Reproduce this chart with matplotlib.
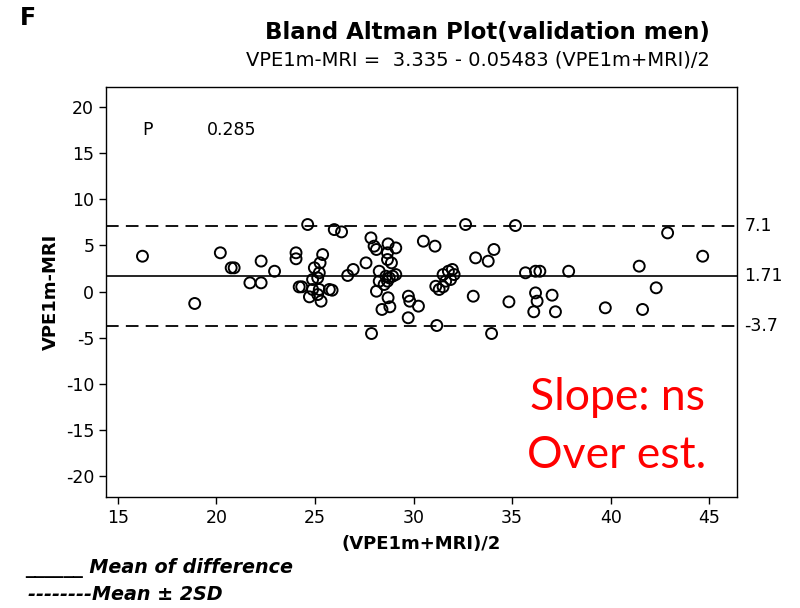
import matplotlib
matplotlib.use("Agg")
import matplotlib.pyplot as plt

plt.rcParams["axes.unicode_minus"] = False

# Data
avg = [16.25, 18.9, 20.2, 20.75, 20.9, 22.27, 22.95, 21.7, 22.27, 24.04, 24.04, 24.2,
       24.63, 25.98, 26.35, 25.39, 25.26, 24.97, 25.22, 25.14, 24.88, 24.33, 24.72, 25.31,
       24.88, 25.22, 25.14, 25.73, 25.87, 26.66, 26.94, 27.59, 27.84, 28.0, 28.12, 28.71,
       29.1, 28.68, 28.68, 28.88, 28.26, 28.6, 28.77, 28.94, 29.1, 28.26, 28.51, 28.68,
       28.12, 28.71, 28.8, 28.4, 27.87, 29.74, 29.81, 30.25, 29.73, 30.5, 31.09, 31.18,
       31.13, 31.3, 31.5, 31.77, 31.97, 31.63, 31.88, 32.06, 31.5, 32.64, 33.15, 33.03,
       33.79, 34.08, 33.96, 35.17, 34.84, 35.68, 36.19, 36.41, 36.19, 36.27, 36.1, 37.03,
       37.2, 37.87, 39.73, 41.45, 41.62, 42.31, 42.89, 44.67]
diff = [3.83, -1.3, 4.2, 2.57, 2.57, 3.3, 2.2, 0.94, 0.94, 4.2, 3.55, 0.5,
        7.27, 6.72, 6.47, 4.01, 3.11, 2.57, 2.03, 1.48, 1.30, 0.51, -0.58, -1.05,
        0.22, 0.22, -0.33, 0.22, 0.14, 1.74, 2.39, 3.11, 5.82, 4.92, 4.56, 5.17,
        4.73, 4.2, 3.47, 3.11, 2.2, 1.66, 1.48, 1.66, 1.84, 1.12, 0.76, 1.12,
        0.03, -0.68, -1.66, -1.95, -4.56, -0.51, -1.05, -1.59, -2.85, 5.46, 4.92, -3.69,
        0.57, 0.22, 1.84, 2.2, 2.39, 1.12, 1.30, 1.84, 0.51, 7.27, 3.65, -0.51,
        3.29, 4.56, -4.56, 7.16, -1.12, 2.03, 2.2, 2.2, -0.15, -1.05, -2.2, -0.4,
        -2.2, 2.2, -1.77, 2.75, -1.95, 0.4, 6.36, 3.83]
mean_diff = 1.71
upper = 7.1
lower = -3.7
line_labels = ["7.1", "1.71", "-3.7"]
xticks = [15, 20, 25, 30, 35, 40, 45]
yticks = [-20, -15, -10, -5, 0, 5, 10, 15, 20]

fig = plt.figure(figsize=(8, 6.08), dpi=100)
ax = fig.add_axes([0.1325, 0.1826, 0.7885, 0.6744])

ax.scatter(avg, diff, s=62, facecolors="none", edgecolors="black", linewidths=1.4, zorder=3)
ax.axhline(mean_diff, color="black", lw=1.2)
ax.axhline(upper, color="black", lw=1.3, ls=(0, (7, 4)))
ax.axhline(lower, color="black", lw=1.3, ls=(0, (7, 4)))

ax.set_xlim(14.4, 46.4)
ax.set_ylim(-22.3, 22.2)
ax.set_xticks(xticks)
ax.set_yticks(yticks)
ax.tick_params(labelsize=12.5, direction="out", length=5, width=1, top=False, right=False)
for s in ax.spines.values():
    s.set_linewidth(1.0)

for v, lab in zip([upper, mean_diff, lower], line_labels):
    ax.text(1.012, v, lab, transform=ax.get_yaxis_transform(), va="center", ha="left", fontsize=12.5)

ax.text(148 / 800, 1 - 130 / 608, "P", transform=fig.transFigure, fontsize=12.5, ha="center", va="center")
ax.text(232 / 800, 1 - 130 / 608, "0.285", transform=fig.transFigure, fontsize=12.5, ha="center", va="center")

ax.set_xlabel("(VPE1m+MRI)/2", fontsize=13, fontweight="bold", labelpad=6)
ax.set_ylabel("VPE1m-MRI", fontsize=13, fontweight="bold", labelpad=4)

fig.text(28 / 800, 1 - 18 / 608, "F", fontsize=17, fontweight="bold", ha="center", va="center")
fig.text(487 / 800, 1 - 32 / 608, "Bland Altman Plot(validation men)", fontsize=16.5, fontweight="bold",
         ha="center", va="center")
fig.text(478 / 800, 1 - 60 / 608, "VPE1m-MRI =  3.335 - 0.05483 (VPE1m+MRI)/2", fontsize=14,
         ha="center", va="center", family="Liberation Sans Narrow")

fig.text(617 / 800, 1 - 398 / 608, "Slope: ns", fontsize=32, color="#ff0000", ha="center", va="center",
         family="Lato")
fig.text(617 / 800, 1 - 455 / 608, "Over est.", fontsize=32, color="#ff0000", ha="center", va="center",
         family="Lato")

fig.text(25 / 800, 1 - 568 / 608, "______ Mean of difference", fontsize=13.8, fontweight="bold",
         style="italic", ha="left", va="center")
fig.text(28 / 800, 1 - 595 / 608, "--------Mean \u00b1 2SD", fontsize=13.8, fontweight="bold",
         style="italic", ha="left", va="center")

fig.savefig("out.png", dpi=100)
